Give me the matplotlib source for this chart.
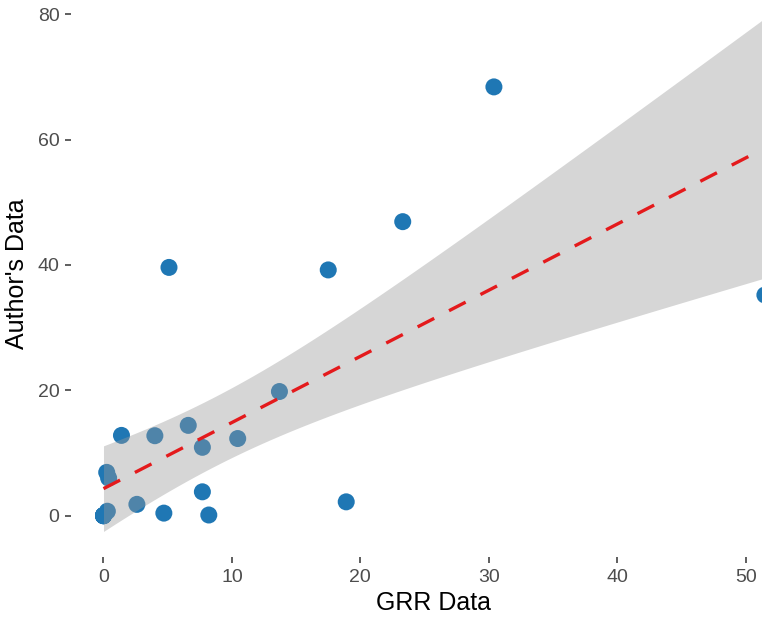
import numpy as np
import matplotlib.pyplot as plt

plt.rcParams['font.family'] = ['Liberation Sans', 'DejaVu Sans']

# values (several points sit on top of each other at the origin)
grr = [0.0, 0.0, 0.0, 0.0, 0.0, 0.0, 0.3, 0.25, 0.4, 1.4, 2.6, 4.0, 4.7, 5.1, 6.6,
       7.7, 7.7, 8.2, 10.45, 13.7, 17.5, 18.9, 23.3, 30.4, 51.5]
author = [0.0, 0.0, 0.0, 0.0, 0.0, 0.0, 0.7, 6.9, 6.0, 12.8, 1.8, 12.75, 0.4, 39.6, 14.4,
          10.9, 3.8, 0.1, 12.3, 19.8, 39.2, 2.2, 46.9, 68.4, 35.2]
x_ticks = [0, 10, 20, 30, 40, 50]
y_ticks = [0, 20, 40, 60, 80]

# linear fit with 95% band, like geom_smooth(method = "lm")
x = np.array(grr)
y = np.array(author)
n = len(x)
slope, intercept = np.polyfit(x, y, 1)
resid = y - (intercept + slope * x)
s2 = np.sum(resid ** 2) / (n - 2)
sxx = np.sum((x - x.mean()) ** 2)
t_crit = 2.069  # t(0.975, df=23)
xs = np.linspace(x.min(), x.max(), 80)
fit = intercept + slope * xs
se = np.sqrt(s2 * (1 / n + (xs - x.mean()) ** 2 / sxx))

fig = plt.figure(figsize=(7.62, 6.21), dpi=100)
ax = fig.add_axes([71 / 762, 64 / 621, 726 / 762, 566 / 621])

ax.scatter(x, y, s=150, color='#1f77b4', edgecolors='none', zorder=2)
ax.fill_between(xs, fit - t_crit * se, fit + t_crit * se,
                color='#999999', alpha=0.4, linewidth=0, zorder=3)
ax.plot(xs, fit, color='#e41a1c', linewidth=2.4, dashes=(5.6, 5.0), zorder=4)

ax.set_xlim(-2.53, 54.0)
ax.set_ylim(-6.6, 83.7)
ax.set_xticks(x_ticks)
ax.set_yticks(y_ticks)
for side in ax.spines.values():
    side.set_visible(False)
ax.tick_params(length=4.3, width=1.1, color='#333333', labelcolor='#4d4d4d',
               labelsize=14, pad=4)
ax.set_xlabel('GRR Data', fontsize=18, labelpad=4)
ax.set_ylabel("Author's Data", fontsize=18, labelpad=6)

fig.savefig('out.png', dpi=100)
